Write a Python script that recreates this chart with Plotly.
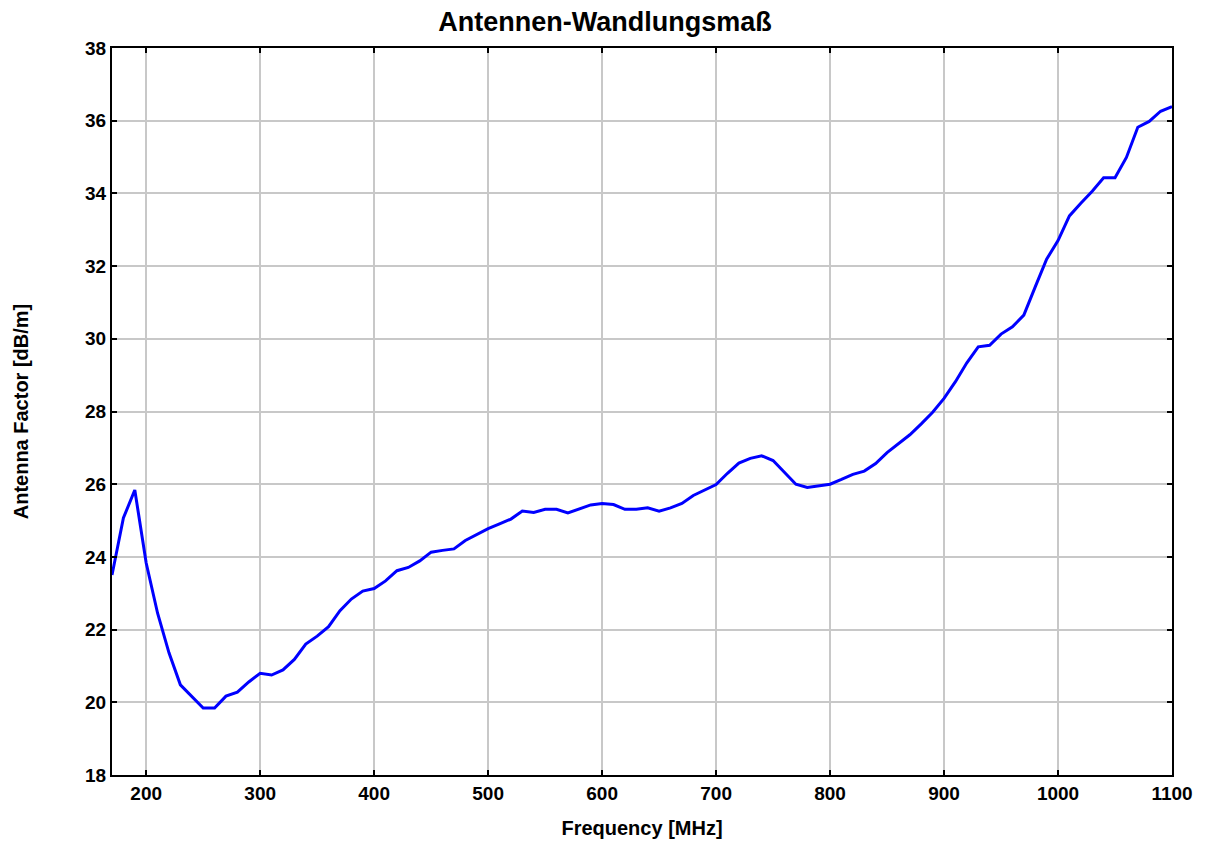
import plotly.graph_objects as go

freq_mhz = [170, 180, 190, 200, 210, 220, 230, 240, 250, 260,
            270, 280, 290, 300, 310, 320, 330, 340, 350, 360,
            370, 380, 390, 400, 410, 420, 430, 440, 450, 460,
            470, 480, 490, 500, 510, 520, 530, 540, 550, 560,
            570, 580, 590, 600, 610, 620, 630, 640, 650, 660,
            670, 680, 690, 700, 710, 720, 730, 740, 750, 760,
            770, 780, 790, 800, 810, 820, 830, 840, 850, 860,
            870, 880, 890, 900, 910, 920, 930, 940, 950, 960,
            970, 980, 990, 1000, 1010, 1020, 1030, 1040, 1050, 1060,
            1070, 1080, 1090, 1100]

antenna_factor = [23.50, 25.07, 25.84, 23.83, 22.45, 21.36, 20.48, 20.17, 19.84, 19.84,
                  20.17, 20.28, 20.56, 20.80, 20.75, 20.89, 21.18, 21.60, 21.82, 22.08,
                  22.52, 22.84, 23.06, 23.13, 23.34, 23.62, 23.71, 23.89, 24.13, 24.18,
                  24.22, 24.45, 24.62, 24.78, 24.91, 25.04, 25.26, 25.22, 25.31, 25.31,
                  25.21, 25.31, 25.43, 25.47, 25.44, 25.31, 25.31, 25.35, 25.26, 25.35,
                  25.47, 25.69, 25.84, 25.99, 26.30, 26.58, 26.71, 26.78, 26.65, 26.32,
                  26.00, 25.91, 25.95, 26.00, 26.13, 26.27, 26.36, 26.57, 26.87, 27.11,
                  27.36, 27.66, 27.98, 28.36, 28.82, 29.34, 29.78, 29.82, 30.13, 30.33,
                  30.65, 31.43, 32.19, 32.70, 33.38, 33.73, 34.06, 34.43, 34.43, 34.99,
                  35.82, 35.98, 36.26, 36.39]

x_ticks = [200, 300, 400, 500, 600, 700, 800, 900, 1000, 1100]
y_ticks = [18, 20, 22, 24, 26, 28, 30, 32, 34, 36, 38]

title_text = "Antennen-Wandlungsmaß"
x_title = "Frequency [MHz]"
y_title = "Antenna Factor [dB/m]"

FONT = "Liberation Sans, Arial, sans-serif"

W, H = 1198, 833

fig = go.Figure()
fig.add_trace(go.Scatter(
    x=freq_mhz, y=antenna_factor, mode="lines",
    line=dict(color="#0000ff", width=3),
    showlegend=False,
))

axis_common = dict(
    automargin=False,
    showline=True, linecolor="black", linewidth=2, mirror="ticks",
    ticks="inside", ticklen=5, tickwidth=2, tickcolor="black",
    showgrid=True, gridcolor="#c8c8c8", gridwidth=1.5,
    zeroline=False,
    tickfont=dict(family=FONT, size=19, color="black", weight="bold"),
)

fig.update_layout(
    width=W, height=H,
    margin=dict(l=104, r=34, t=40, b=66),
    paper_bgcolor="white", plot_bgcolor="white",
    title=dict(text=title_text, x=(605 - 8) / W, xanchor="center", xref="container",
               y=1 - 14 / H, yanchor="middle", yref="container",
               font=dict(family=FONT, size=27, color="black", weight="bold")),
    xaxis=dict(range=[170, 1100], tickvals=x_ticks,
               title=dict(text=x_title, standoff=18,
                          font=dict(family=FONT, size=20, color="black", weight="bold")),
               **axis_common),
    yaxis=dict(range=[18, 38], tickvals=y_ticks,
               title=dict(text=y_title, standoff=51,
                          font=dict(family=FONT, size=20, color="black", weight="bold")),
               **axis_common),
)

fig.write_html("out.html")
